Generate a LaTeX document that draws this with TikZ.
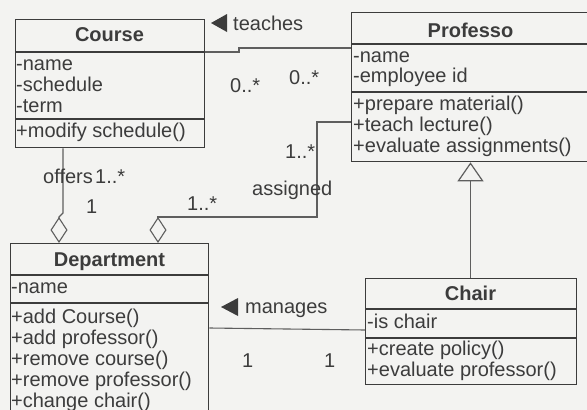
\documentclass[tikz,border=0pt]{standalone}
\usepackage{fontspec}
\setmainfont{Liberation Sans}
\usetikzlibrary{arrows.meta,calc}

\definecolor{paper}{HTML}{F3F3F1}
\definecolor{ink}{HTML}{3C3C3C}
\definecolor{wire}{HTML}{5E5E5E}

\tikzset{
  classbox/.style={draw=ink, line width=1.3pt, anchor=north west, inner sep=0pt, fill=none},
  sepline/.style={draw=ink, line width=1.3pt},
  txt/.style={anchor=base west, inner sep=0pt, text=ink, text height=15pt, text depth=4pt,
    font=\fontsize{20}{24}\selectfont},
  title/.style={anchor=base, inner sep=0pt, text=ink, text height=15pt, text depth=4pt,
    font=\fontsize{20}{24}\selectfont\bfseries},
  wire/.style={draw=wire, line width=1.1pt},
  aggr/.style={wire, -{Diamond[open, length=26pt, width=17pt, line width=1.1pt]}},
  inherit/.style={wire, -{Triangle[open, length=19pt, width=26pt, line width=1.2pt]}},
}

\begin{document}
\begin{tikzpicture}[x=1pt, y=-1pt]
  \fill[paper] (0,0) rectangle (587,410);
  \useasboundingbox (0,0) rectangle (587,410);

  % ---- Course ----
  \node[classbox, minimum width=189pt, minimum height=128pt] (course) at (15,19) {};
  \draw[sepline] (15,52) -- (204,52);
  \draw[sepline] (15,119) -- (204,119);
  \node[title] (courseT) at (109.5,41) {Course};
  \node[txt] (courseA1) at (16,70) {-name};
  \node[txt] (courseA2) at (16,91) {-schedule};
  \node[txt] (courseA3) at (16,112) {-term};
  \node[txt] (courseM1) at (16,137) {+modify schedule()};

  % ---- Professo ----
  \node[classbox, minimum width=239pt, minimum height=149pt] (professo) at (351,12) {};
  \draw[sepline] (351,44) -- (590,44);
  \draw[sepline] (351,92) -- (590,92);
  \node[title] (profT) at (470.5,37) {Professo};
  \node[txt] (profA1) at (353,62) {-name};
  \node[txt] (profA2) at (353,82) {-employee id};
  \node[txt] (profM1) at (353,110) {+prepare material()};
  \node[txt] (profM2) at (353,131) {+teach lecture()};
  \node[txt] (profM3) at (353,152) {+evaluate assignments()};

  % ---- Department ----
  \node[classbox, minimum width=198pt, minimum height=190pt] (department) at (10,243) {};
  \draw[sepline] (10,275) -- (208,275);
  \draw[sepline] (10,303) -- (208,303);
  \node[title] (deptT) at (109.5,266) {Department};
  \node[txt] (deptA1) at (11,293) {-name};
  \node[txt] (deptM1) at (11,323) {+add Course()};
  \node[txt] (deptM2) at (11,344) {+add professor()};
  \node[txt] (deptM3) at (11,365) {+remove course()};
  \node[txt] (deptM4) at (11,386) {+remove professor()};
  \node[txt] (deptM5) at (11,407) {+change chair()};

  % ---- Chair ----
  \node[classbox, minimum width=211pt, minimum height=106pt] (chair) at (365,278) {};
  \draw[sepline] (365,309) -- (576,309);
  \draw[sepline] (365,338) -- (576,338);
  \node[title] (chairT) at (470.5,300) {Chair};
  \node[txt] (chairA1) at (367,328) {-is chair};
  \node[txt] (chairM1) at (367,355) {+create policy()};
  \node[txt] (chairM2) at (367,376) {+evaluate professor()};

  % ---- teaches ----
  \coordinate (tJogLow) at (239,52);
  \coordinate (tJogHigh) at (239,48);
  \draw[wire] (tJogLow -| course.east) -- (tJogLow) -- (tJogHigh) -- (tJogHigh -| professo.west);
  \fill[ink] (211,23) -- (227,14) -- (227,32) -- cycle;
  \node[txt] (teachesL) at (233,30) {teaches};
  \node[txt] (teachesM1) at (230,92) {0..*};
  \node[txt] (teachesM2) at (289,84) {0..*};

  % ---- assigned ----
  \coordinate (aStart) at (317,122);
  \coordinate (aBend) at (317,217);
  \coordinate (aDiamond) at (158,217);
  \draw[aggr] (aStart -| professo.west) -- (aStart) -- (aBend) -- (aDiamond) -- (aDiamond |- department.north);
  \node[txt] (assignedM1) at (285,158) {1..*};
  \node[txt] (assignedL) at (252,195) {assigned};
  \node[txt] (assignedM2) at (187,210) {1..*};

  % ---- offers ----
  \coordinate (oTop) at (63,147);
  \coordinate (oJog) at (63,213);
  \coordinate (oDiamond) at (59,217);
  \draw[aggr] (oTop |- course.south) -- (oJog) -- (oDiamond) -- (oDiamond |- department.north);
  \node[txt] (offersL) at (43,183) {offers};
  \node[txt] (offersM1) at (95,183) {1..*};
  \node[txt] (offersM2) at (86,213) {1};

  % ---- generalisation ----
  \draw[inherit] (chair.north -| profT) -- (professo.south -| profT);

  % ---- manages ----
  \coordinate (mLeft) at (208,328);
  \coordinate (mRight) at (365,330);
  \draw[wire] (mLeft -| department.east) -- (mRight -| chair.west);
  \fill[ink] (221,307) -- (238,298) -- (238,316) -- cycle;
  \node[txt] (managesL) at (245,313) {manages};
  \node[txt] (managesM1) at (242,367) {1};
  \node[txt] (managesM2) at (324,367) {1};
\end{tikzpicture}
\end{document}
